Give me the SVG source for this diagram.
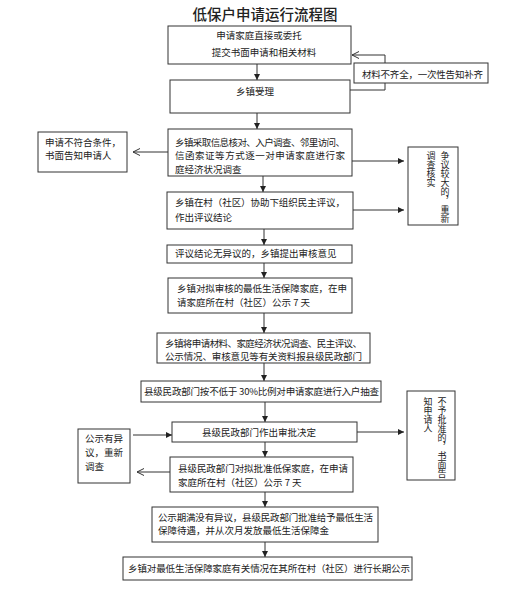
<svg xmlns="http://www.w3.org/2000/svg" width="530" height="600" viewBox="0 0 530 600">
<style>
.box{fill:#fff;stroke:#333;stroke-width:1}
.t{font-family:"Noto Sans CJK SC","Noto Sans",sans-serif;font-size:9.5px;fill:#222}
.v{font-family:"Noto Sans CJK SC","Noto Sans",sans-serif;font-size:9px;fill:#222;writing-mode:vertical-rl}
.c{fill:none;stroke:#333;stroke-width:1}
.title{font-family:"Noto Sans CJK SC","Noto Sans",sans-serif;font-size:14.5px;font-weight:500;fill:#222}
</style>
<defs>
<marker id="af" markerUnits="userSpaceOnUse" markerWidth="7" markerHeight="7" refX="6" refY="3" orient="auto">
<path d="M0,0 L6,3 L0,6 Z" fill="#222"/>
</marker>
<marker id="ao" markerUnits="userSpaceOnUse" markerWidth="9" markerHeight="9" refX="7" refY="4" orient="auto">
<path d="M0,0.5 L7,4 L0,7.5" fill="none" stroke="#333" stroke-width="1"/>
</marker>
</defs>
<rect width="530" height="600" fill="#fff"/>
<text class="title" x="265" y="20" text-anchor="middle">低保户申请运行流程图</text>

<g id="connectors">
<path class="c" d="M257,64 V80" marker-end="url(#af)"/>
<path class="c" d="M257,113 V129" marker-end="url(#af)"/>
<path class="c" d="M263,176 V192" marker-end="url(#af)"/>
<path class="c" d="M264,229 V245" marker-end="url(#af)"/>
<path class="c" d="M264,263 V278" marker-end="url(#af)"/>
<path class="c" d="M264,313 V333" marker-end="url(#af)"/>
<path class="c" d="M264,363 V381" marker-end="url(#af)"/>
<path class="c" d="M265,402 V422" marker-end="url(#af)"/>
<path class="c" d="M265,442 V457" marker-end="url(#af)"/>
<path class="c" d="M265,492 V507" marker-end="url(#af)"/>
<path class="c" d="M265,542 V557" marker-end="url(#af)"/>
<path class="c" d="M350,90 H385 V83"/>
<path class="c" d="M385,63 V55 H352" marker-end="url(#ao)"/>
<path class="c" d="M168,152 H133" marker-end="url(#ao)"/>
<path class="c" d="M352,161 H404" marker-end="url(#af)"/>
<path class="c" d="M353,210 H404" marker-end="url(#af)"/>
<path class="c" d="M357,432 H404" marker-end="url(#af)"/>
<path class="c" d="M133,435 H172" marker-end="url(#af)"/>
<path class="c" d="M170,472 H137" marker-end="url(#ao)"/>
</g>

<g id="n1"><rect class="box" x="168" y="26" width="183" height="38"/>
<text class="t" x="259" y="39" text-anchor="middle">申请家庭直接或委托</text>
<text class="t" x="264" y="55.5" text-anchor="middle">提交书面申请和相关材料</text></g>

<g id="n_material"><rect class="box" x="354" y="63" width="134" height="20"/>
<text class="t" x="362" y="77.5" textLength="121" lengthAdjust="spacing">材料不齐全，一次性告知补齐</text></g>

<g id="n2"><rect class="box" x="170" y="80" width="180" height="33"/>
<text class="t" x="255" y="94.5" text-anchor="middle">乡镇受理</text></g>

<g id="n3"><rect class="box" x="168" y="129" width="184" height="47"/>
<text class="t" x="175" y="145.5" textLength="170" lengthAdjust="spacing">乡镇采取信息核对、入户调查、邻里访问、</text>
<text class="t" x="175" y="159" textLength="170" lengthAdjust="spacing">信函索证等方式逐一对申请家庭进行家</text>
<text class="t" x="175" y="172.5">庭经济状况调查</text></g>

<g id="n_reject1"><rect class="box" x="38" y="132" width="89" height="40"/>
<text class="t" x="45" y="145.5">申请不符合条件，</text>
<text class="t" x="45" y="158.5">书面告知申请人</text></g>

<g id="n_dispute"><rect class="box" x="408" y="147" width="50" height="78"/>
<text class="v" x="445" y="151">争议较大的，重新</text>
<text class="v" x="431" y="151">调查核实</text></g>

<g id="n4"><rect class="box" x="167" y="192" width="186" height="37"/>
<text class="t" x="175" y="205.5" textLength="170" lengthAdjust="spacing">乡镇在村（社区）协助下组织民主评议，</text>
<text class="t" x="175" y="221">作出评议结论</text></g>

<g id="n5"><rect class="box" x="167" y="245" width="185" height="18"/>
<text class="t" x="175" y="257">评议结论无异议的，乡镇提出审核意见</text></g>

<g id="n6"><rect class="box" x="168" y="278" width="184" height="35"/>
<text class="t" x="177" y="291.5" textLength="170" lengthAdjust="spacing">乡镇对拟审核的最低生活保障家庭，在申</text>
<text class="t" x="177" y="305.5">请家庭所在村（社区）公示 7 天</text></g>

<g id="n7"><rect class="box" x="157" y="333" width="213" height="30"/>
<text class="t" x="165" y="346.5" textLength="197" lengthAdjust="spacing">乡镇将申请材料、家庭经济状况调查、民主评议、</text>
<text class="t" x="165" y="359.5" textLength="197" lengthAdjust="spacing">公示情况、审核意见等有关资料报县级民政部门</text></g>

<g id="n8"><rect class="box" x="141" y="381" width="240" height="21"/>
<text class="t" x="144" y="395" textLength="235" lengthAdjust="spacing">县级民政部门按不低于 30%比例对申请家庭进行入户抽查</text></g>

<g id="n9"><rect class="box" x="172" y="422" width="185" height="20"/>
<text class="t" x="259" y="435.5" text-anchor="middle">县级民政部门作出审批决定</text></g>

<g id="n_reject2"><rect class="box" x="407" y="391" width="48" height="89"/>
<text class="v" x="442" y="397">不予批准的，书面告</text>
<text class="v" x="428" y="397">知申请人</text></g>

<g id="n_objection"><rect class="box" x="78" y="429" width="52" height="54"/>
<text class="t" x="85" y="441.5">公示有异</text>
<text class="t" x="85" y="455.5">议，重新</text>
<text class="t" x="85" y="469.5">调查</text></g>

<g id="n10"><rect class="box" x="170" y="457" width="183" height="35"/>
<text class="t" x="178" y="471.5" textLength="170" lengthAdjust="spacing">县级民政部门对拟批准低保家庭，在申请</text>
<text class="t" x="178" y="485.5">家庭所在村（社区）公示 7 天</text></g>

<g id="n11"><rect class="box" x="152" y="507" width="226" height="35"/>
<text class="t" x="158" y="520.5" textLength="215" lengthAdjust="spacing">公示期满没有异议，县级民政部门批准给予最低生活</text>
<text class="t" x="158" y="534">保障待遇，并从次月发放最低生活保障金</text></g>

<g id="n12"><rect class="box" x="123" y="557" width="289" height="23"/>
<text class="t" x="128" y="572" textLength="282" lengthAdjust="spacing">乡镇对最低生活保障家庭有关情况在其所在村（社区）进行长期公示</text></g>
</svg>
